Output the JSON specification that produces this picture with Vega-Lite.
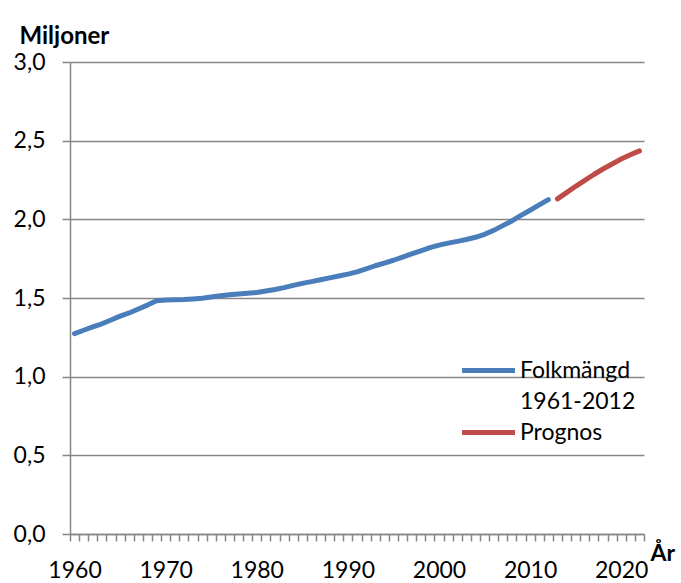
{
  "$schema": "https://vega.github.io/schema/vega-lite/v6.json",
  "width": 574,
  "height": 472,
  "autosize": {"type": "none"},
  "padding": {"left": 70, "top": 62, "right": 37, "bottom": 49},
  "background": "white",
  "config": {"view": {"stroke": null}, "font": "Lato"},
  "data": {
    "values": [
      {"year": 1960, "value": 1.274, "series": "Folkmängd 1961-2012"},
      {"year": 1961, "value": 1.295, "series": "Folkmängd 1961-2012"},
      {"year": 1962, "value": 1.316, "series": "Folkmängd 1961-2012"},
      {"year": 1963, "value": 1.336, "series": "Folkmängd 1961-2012"},
      {"year": 1964, "value": 1.360, "series": "Folkmängd 1961-2012"},
      {"year": 1965, "value": 1.385, "series": "Folkmängd 1961-2012"},
      {"year": 1966, "value": 1.405, "series": "Folkmängd 1961-2012"},
      {"year": 1967, "value": 1.430, "series": "Folkmängd 1961-2012"},
      {"year": 1968, "value": 1.455, "series": "Folkmängd 1961-2012"},
      {"year": 1969, "value": 1.482, "series": "Folkmängd 1961-2012"},
      {"year": 1970, "value": 1.487, "series": "Folkmängd 1961-2012"},
      {"year": 1971, "value": 1.489, "series": "Folkmängd 1961-2012"},
      {"year": 1972, "value": 1.490, "series": "Folkmängd 1961-2012"},
      {"year": 1973, "value": 1.494, "series": "Folkmängd 1961-2012"},
      {"year": 1974, "value": 1.499, "series": "Folkmängd 1961-2012"},
      {"year": 1975, "value": 1.506, "series": "Folkmängd 1961-2012"},
      {"year": 1976, "value": 1.514, "series": "Folkmängd 1961-2012"},
      {"year": 1977, "value": 1.521, "series": "Folkmängd 1961-2012"},
      {"year": 1978, "value": 1.525, "series": "Folkmängd 1961-2012"},
      {"year": 1979, "value": 1.530, "series": "Folkmängd 1961-2012"},
      {"year": 1980, "value": 1.535, "series": "Folkmängd 1961-2012"},
      {"year": 1981, "value": 1.544, "series": "Folkmängd 1961-2012"},
      {"year": 1982, "value": 1.554, "series": "Folkmängd 1961-2012"},
      {"year": 1983, "value": 1.566, "series": "Folkmängd 1961-2012"},
      {"year": 1984, "value": 1.580, "series": "Folkmängd 1961-2012"},
      {"year": 1985, "value": 1.593, "series": "Folkmängd 1961-2012"},
      {"year": 1986, "value": 1.604, "series": "Folkmängd 1961-2012"},
      {"year": 1987, "value": 1.616, "series": "Folkmängd 1961-2012"},
      {"year": 1988, "value": 1.628, "series": "Folkmängd 1961-2012"},
      {"year": 1989, "value": 1.640, "series": "Folkmängd 1961-2012"},
      {"year": 1990, "value": 1.652, "series": "Folkmängd 1961-2012"},
      {"year": 1991, "value": 1.666, "series": "Folkmängd 1961-2012"},
      {"year": 1992, "value": 1.685, "series": "Folkmängd 1961-2012"},
      {"year": 1993, "value": 1.705, "series": "Folkmängd 1961-2012"},
      {"year": 1994, "value": 1.722, "series": "Folkmängd 1961-2012"},
      {"year": 1995, "value": 1.740, "series": "Folkmängd 1961-2012"},
      {"year": 1996, "value": 1.760, "series": "Folkmängd 1961-2012"},
      {"year": 1997, "value": 1.780, "series": "Folkmängd 1961-2012"},
      {"year": 1998, "value": 1.800, "series": "Folkmängd 1961-2012"},
      {"year": 1999, "value": 1.820, "series": "Folkmängd 1961-2012"},
      {"year": 2000, "value": 1.836, "series": "Folkmängd 1961-2012"},
      {"year": 2001, "value": 1.849, "series": "Folkmängd 1961-2012"},
      {"year": 2002, "value": 1.860, "series": "Folkmängd 1961-2012"},
      {"year": 2003, "value": 1.872, "series": "Folkmängd 1961-2012"},
      {"year": 2004, "value": 1.886, "series": "Folkmängd 1961-2012"},
      {"year": 2005, "value": 1.905, "series": "Folkmängd 1961-2012"},
      {"year": 2006, "value": 1.930, "series": "Folkmängd 1961-2012"},
      {"year": 2007, "value": 1.960, "series": "Folkmängd 1961-2012"},
      {"year": 2008, "value": 1.990, "series": "Folkmängd 1961-2012"},
      {"year": 2009, "value": 2.025, "series": "Folkmängd 1961-2012"},
      {"year": 2010, "value": 2.058, "series": "Folkmängd 1961-2012"},
      {"year": 2011, "value": 2.092, "series": "Folkmängd 1961-2012"},
      {"year": 2012, "value": 2.125, "series": "Folkmängd 1961-2012"},
      {"year": 2013, "value": 2.130, "series": "Prognos"},
      {"year": 2014, "value": 2.170, "series": "Prognos"},
      {"year": 2015, "value": 2.210, "series": "Prognos"},
      {"year": 2016, "value": 2.248, "series": "Prognos"},
      {"year": 2017, "value": 2.285, "series": "Prognos"},
      {"year": 2018, "value": 2.320, "series": "Prognos"},
      {"year": 2019, "value": 2.352, "series": "Prognos"},
      {"year": 2020, "value": 2.383, "series": "Prognos"},
      {"year": 2021, "value": 2.410, "series": "Prognos"},
      {"year": 2022, "value": 2.435, "series": "Prognos"}
    ]
  },
  "mark": {"type": "line", "strokeWidth": 5, "strokeCap": "round", "strokeJoin": "round"},
  "encoding": {
    "x": {
      "field": "year",
      "type": "quantitative",
      "scale": {"domain": [1959.5, 2022.5], "nice": false, "zero": false},
      "axis": {
        "values": [1959.5, 1960.5, 1961.5, 1962.5, 1963.5, 1964.5, 1965.5, 1966.5, 1967.5, 1968.5, 1969.5, 1970.5, 1971.5, 1972.5, 1973.5, 1974.5, 1975.5, 1976.5, 1977.5, 1978.5, 1979.5, 1980.5, 1981.5, 1982.5, 1983.5, 1984.5, 1985.5, 1986.5, 1987.5, 1988.5, 1989.5, 1990.5, 1991.5, 1992.5, 1993.5, 1994.5, 1995.5, 1996.5, 1997.5, 1998.5, 1999.5, 2000.5, 2001.5, 2002.5, 2003.5, 2004.5, 2005.5, 2006.5, 2007.5, 2008.5, 2009.5, 2010.5, 2011.5, 2012.5, 2013.5, 2014.5, 2015.5, 2016.5, 2017.5, 2018.5, 2019.5, 2020.5, 2021.5, 2022.5, 1960, 1970, 1980, 1990, 2000, 2010, 2020],
        "labelExpr": "datum.value % 10 == 0 ? toString(datum.value) : ''",
        "labelOverlap": false,
        "labelFlush": false,
        "labelBound": false,
        "labelFontSize": 23,
        "labelColor": "#000000",
        "labelBaseline": "alphabetic",
        "labelPadding": 36,
        "grid": false,
        "domainColor": "#868686",
        "domainWidth": 1.5,
        "tickColor": "#868686",
        "tickWidth": 1.5,
        "tickSize": 7,
        "tickOpacity": {"condition": {"test": "datum.value % 1 == 0", "value": 0}, "value": 1},
        "title": "År",
        "titleFontSize": 23,
        "titleFontWeight": "bold",
        "titleColor": "#000000",
        "titleAlign": "left",
        "titleBaseline": "alphabetic",
        "titleX": 580,
        "titleY": 26
      }
    },
    "y": {
      "field": "value",
      "type": "quantitative",
      "scale": {"domain": [0, 3], "nice": false},
      "axis": {
        "values": [0, 0.5, 1, 1.5, 2, 2.5, 3],
        "labelExpr": "replace(format(datum.value, '.1f'), '.', ',')",
        "labelFontSize": 23,
        "labelColor": "#000000",
        "labelPadding": 17,
        "labelBaseline": "middle",
        "grid": true,
        "gridColor": "#868686",
        "gridWidth": 1.5,
        "domainColor": "#868686",
        "domainWidth": 1.5,
        "tickColor": "#868686",
        "tickWidth": 1.5,
        "tickSize": 8,
        "title": "Miljoner",
        "titleAngle": 0,
        "titleFontSize": 24,
        "titleFontWeight": "bold",
        "titleColor": "#000000",
        "titleAlign": "left",
        "titleBaseline": "alphabetic",
        "titleX": -51,
        "titleY": -19
      }
    },
    "color": {
      "field": "series",
      "type": "nominal",
      "scale": {"domain": ["Folkmängd 1961-2012", "1961-2012", "Prognos"], "range": ["#4A7EBB", "rgba(255,255,255,0)", "#BE4B48"]},
      "legend": {
        "orient": "none",
        "legendX": 407,
        "legendY": 297,
        "title": null,
        "padding": 0,
        "symbolType": "M-5,0H5",
        "symbolSize": 112,
        "symbolStrokeWidth": 5,
        "symbolFillColor": "transparent",
        "labelFontSize": 23,
        "labelColor": "#000000",
        "labelOffset": 20,
        "rowPadding": 7,
        "labelExpr": "datum.label == 'Folkmängd 1961-2012' ? 'Folkmängd' : datum.label"
      }
    }
  }
}
